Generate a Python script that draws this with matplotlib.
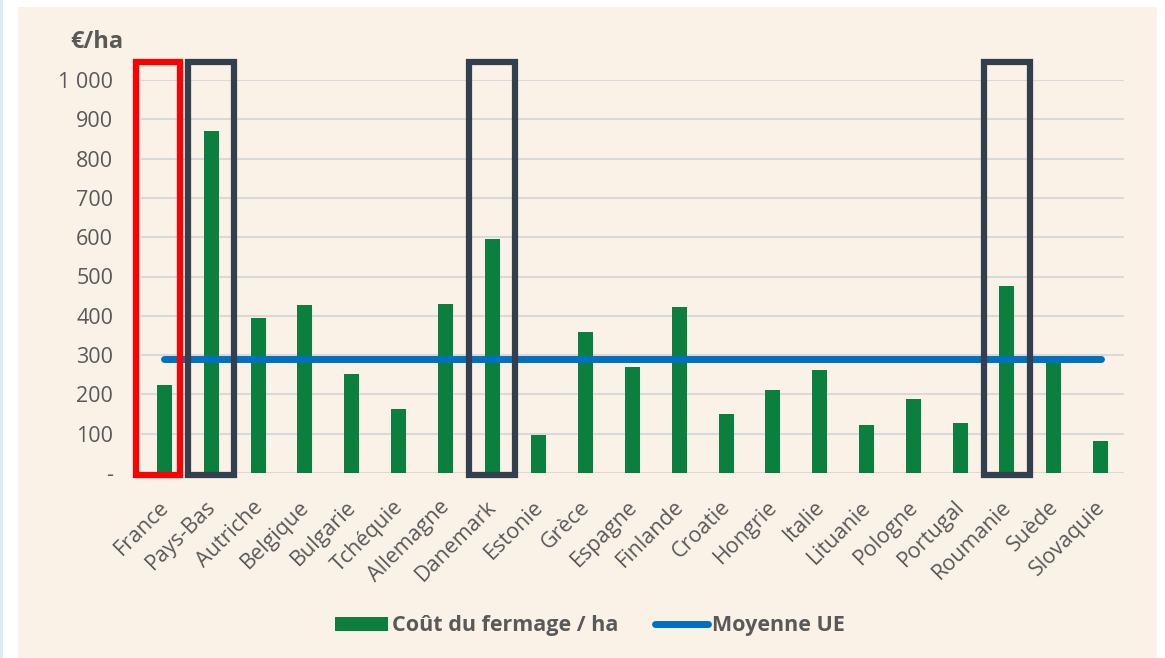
import numpy as np
import matplotlib.pyplot as plt
import matplotlib.transforms as mtransforms
from matplotlib.patches import Rectangle, Patch
from matplotlib.lines import Line2D

pays = ['France', 'Pays-Bas', 'Autriche', 'Belgique', 'Bulgarie', 'Tchéquie',
        'Allemagne', 'Danemark', 'Estonie', 'Grèce', 'Espagne', 'Finlande',
        'Croatie', 'Hongrie', 'Italie', 'Lituanie', 'Pologne', 'Portugal',
        'Roumanie', 'Suède', 'Slovaquie']
cout = [224, 870, 394, 427, 252, 163, 430, 595, 97, 359, 270, 422,
        150, 211, 262, 122, 188, 127, 476, 298, 82]
moyenne_ue = 290
yticks = [0, 100, 200, 300, 400, 500, 600, 700, 800, 900, 1000]
ytick_labels = ['-', '100', '200', '300', '400', '500', '600', '700', '800', '900', '1 000']
pays_rouge = ['France']
pays_gris = ['Pays-Bas', 'Danemark', 'Roumanie']

plt.rcParams['font.family'] = ['Open Sans', 'DejaVu Sans']
gris = '#595959'

W, H = 1165, 658
fig = plt.figure(figsize=(W / 100, H / 100), dpi=100, facecolor='white')

# background panel + left strip
fig.patches.append(Rectangle((0, 0), 3 / W, 1, transform=fig.transFigure,
                             facecolor='#DDEBF7', edgecolor='none', zorder=-2))
fig.patches.append(Rectangle((18 / W, 0), (1157 - 18) / W, (H - 7) / H,
                             transform=fig.transFigure, facecolor='#FBF2E7',
                             edgecolor='none', zorder=-1))

ax = fig.add_axes([141 / W, (H - 473) / H, 983 / W, 393 / H])
ax.set_facecolor('none')

x = np.arange(len(pays))
ax.bar(x, cout, width=0.32, color='#0A7F3E', zorder=3)
ax.plot([x[0], x[-1]], [moyenne_ue, moyenne_ue], color='#0070C0', lw=5,
        solid_capstyle='round', zorder=4)

for p in pays_gris:
    i = pays.index(p)
    ax.add_patch(Rectangle((i - 0.49, -5), 0.98, 1050, fill=False,
                           edgecolor='#323F4F', lw=4.5, clip_on=False, zorder=5))
for p in pays_rouge:
    i = pays.index(p)
    ax.add_patch(Rectangle((i - 0.6, -5), 0.94, 1050, fill=False,
                           edgecolor='#FF0000', lw=4.5, clip_on=False, zorder=5))

ax.set_xlim(-0.5, len(pays) - 0.5)
ax.set_ylim(0, 1000)
ax.set_yticks(yticks)
ax.set_yticklabels(ytick_labels)
ax.set_xticks(x)
ax.set_xticklabels(pays, rotation=45, ha='right', rotation_mode='anchor')
ax.tick_params(axis='both', length=0, labelsize=15.5, labelcolor=gris)
ax.tick_params(axis='y', pad=20)
ax.tick_params(axis='x', pad=14)
shift = mtransforms.ScaledTranslation(-6 / 100, -4 / 100, fig.dpi_scale_trans)
for lab in ax.get_xticklabels():
    lab.set_transform(lab.get_transform() + shift)
ax.grid(axis='y', color='#D9D9D9', lw=1.5, zorder=0)
for s in ax.spines.values():
    s.set_visible(False)

fig.text(123 / W, 1 - 42 / H, '€/ha', ha='right', va='center', fontsize=17,
         fontweight='bold', color=gris)

handles = [Patch(facecolor='#0A7F3E', edgecolor='none'),
           Line2D([0], [0], color='#0070C0', lw=5, solid_capstyle='round')]
leg = fig.legend(handles, ['Coût du fermage / ha', 'Moyenne UE'],
                 loc='center', bbox_to_anchor=(590 / W, 1 - 626 / H), ncol=2,
                 frameon=False, handlelength=2.45, handleheight=0.65,
                 handletextpad=0.2, columnspacing=1.7,
                 prop={'size': 15.5, 'weight': 'bold'})
for t in leg.get_texts():
    t.set_color(gris)

fig.savefig('out.png', dpi=100, facecolor='white')
